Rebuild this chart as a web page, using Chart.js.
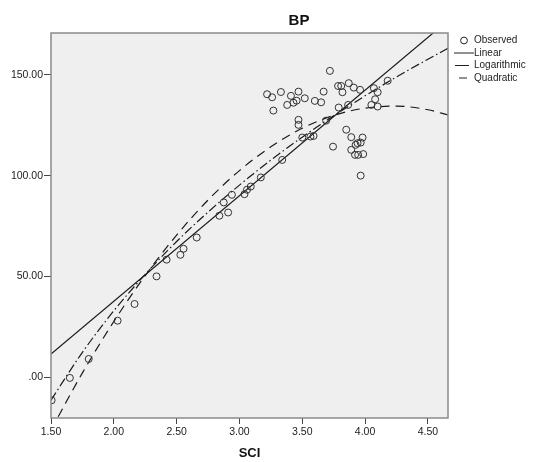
<!DOCTYPE html>
<html>
<head>
<meta charset="utf-8">
<script src="https://cdn.jsdelivr.net/npm/chart.js@4.4.1/dist/chart.umd.min.js"></script>
<style>
  html, body { margin: 0; padding: 0; background: #fff; }
  canvas { display: block; }
</style>
</head>
<body>
<canvas id="grafico" width="533" height="462"></canvas>
<script>
// observed cases
const sci = [1.505, 1.65, 1.80, 2.03, 2.165, 2.34, 2.42, 2.53, 2.555, 2.66, 2.84, 2.91, 2.875, 2.94,
  3.04, 3.06, 3.09, 3.17, 3.34,
  3.22, 3.26, 3.33, 3.27, 3.38, 3.43, 3.455, 3.41, 3.47, 3.47, 3.47,
  3.72, 3.785, 3.81, 3.82, 3.87, 3.91, 3.96, 4.07, 4.10, 4.18, 4.08, 4.05, 4.10, 3.79, 3.865,
  3.67, 3.52, 3.60, 3.65, 3.69,
  3.85, 3.89, 3.98, 3.94, 3.965, 3.925, 3.89, 3.92, 3.945, 3.985, 3.745, 3.965, 3.50, 3.565, 3.59];
const bp = [-11.5, -0.4, 9.0, 28.0, 36.3, 50.0, 58.3, 60.7, 63.7, 69.3, 80.1, 81.7, 86.7, 90.5,
  90.8, 93.0, 94.6, 99.1, 107.8,
  140.4, 138.9, 141.5, 132.3, 135.1, 136.2, 137.2, 139.6, 141.7, 127.7, 125.2,
  152.0, 144.5, 144.5, 141.4, 145.9, 143.7, 142.6, 143.4, 141.4, 147.1, 137.9, 135.1, 134.3, 133.8, 135.1,
  141.7, 138.4, 137.1, 136.4, 127.3,
  122.8, 119.1, 118.9, 116.1, 116.4, 115.3, 112.8, 110.3, 110.3, 110.7, 114.4, 100.0, 118.9, 119.4, 119.7];

// fitted curves
const linSci = [1.5, 4.66];
const linBp = [11.4, 177.0];
const fitSci = [1.5, 1.75, 2, 2.25, 2.5, 2.75, 3, 3.25, 3.5, 3.75, 4, 4.25, 4.5, 4.66];
const logBp = [-11.4, 12.3, 32.9, 51.0, 67.3, 81.9, 95.3, 107.7, 119.1, 129.7, 139.6, 149.0, 157.8, 163.2];
const quadBp = [-26.2, 2.1, 27.6, 50.4, 70.5, 87.9, 102.5, 114.3, 123.5, 129.9, 133.5, 134.5, 132.7, 130.1];

const xTicks = [1.5, 2, 2.5, 3, 3.5, 4, 4.5];
const xTickLabels = ['1.50', '2.00', '2.50', '3.00', '3.50', '4.00', '4.50'];
const yTicks = [0, 50, 100, 150];
const yTickLabels = ['.00', '50.00', '100.00', '150.00'];
const legendLabels = ['Observed', 'Linear', 'Logarithmic', 'Quadratic'];

const pares = (xs, ys) => xs.map((x, i) => ({ x: x, y: ys[i] }));

const TRACO_LOG = [9, 3, 1.5, 3];
const TRACO_QUAD = [9, 6];
const fonte = '"Liberation Sans", Arial, sans-serif';

// fundo cinza, moldura, titulo e legenda
const molduraPlugin = {
  id: 'moldura',
  beforeDraw(chart) {
    const { ctx, chartArea: a } = chart;
    ctx.save();
    ctx.fillStyle = '#efefef';
    ctx.fillRect(a.left, a.top, a.right - a.left, a.bottom - a.top);
    ctx.restore();
  },
  afterDraw(chart) {
    const { ctx, chartArea: a } = chart;
    ctx.save();
    ctx.strokeStyle = '#8a8a8a';
    ctx.lineWidth = 1.5;
    ctx.strokeRect(a.left, a.top, a.right - a.left, a.bottom - a.top);

    ctx.fillStyle = '#111';
    ctx.font = 'bold 15px ' + fonte;
    ctx.textAlign = 'center';
    ctx.textBaseline = 'middle';
    ctx.fillText('BP', 299, 21);

    ctx.font = '10px ' + fonte;
    ctx.textAlign = 'left';
    ctx.fillStyle = '#222';
    const ys = [40.5, 53, 65.5, 78];
    legendLabels.forEach((t, i) => ctx.fillText(t, 474, ys[i]));

    ctx.strokeStyle = '#222';
    ctx.lineWidth = 1;
    ctx.beginPath();
    ctx.arc(464, ys[0], 3.4, 0, Math.PI * 2);
    ctx.stroke();

    ctx.beginPath();
    ctx.moveTo(454, ys[1]); ctx.lineTo(474, ys[1]);
    ctx.stroke();

    ctx.beginPath();
    ctx.moveTo(455, ys[2]); ctx.lineTo(469, ys[2]);
    ctx.stroke();

    ctx.beginPath();
    ctx.moveTo(459, ys[3]); ctx.lineTo(467, ys[3]);
    ctx.stroke();
    ctx.restore();
  }
};

const ctx = document.getElementById('grafico').getContext('2d');
new Chart(ctx, {
  type: 'scatter',
  data: {
    datasets: [
      {
        label: 'Observed',
        data: pares(sci, bp),
        showLine: false,
        pointRadius: 3.5,
        pointBorderWidth: 1,
        pointBorderColor: '#333',
        pointBackgroundColor: 'rgba(0,0,0,0)'
      },
      {
        label: 'Linear',
        data: pares(linSci, linBp),
        showLine: true,
        borderColor: '#1a1a1a',
        borderWidth: 1.2,
        pointRadius: 0
      },
      {
        label: 'Logarithmic',
        data: pares(fitSci, logBp),
        showLine: true,
        borderColor: '#1a1a1a',
        borderWidth: 1.2,
        borderDash: TRACO_LOG,
        cubicInterpolationMode: 'monotone',
        pointRadius: 0
      },
      {
        label: 'Quadratic',
        data: pares(fitSci, quadBp),
        showLine: true,
        borderColor: '#1a1a1a',
        borderWidth: 1.2,
        borderDash: TRACO_QUAD,
        cubicInterpolationMode: 'monotone',
        pointRadius: 0
      }
    ]
  },
  options: {
    responsive: false,
    animation: false,
    layout: { padding: { top: 33, right: 85, left: 0, bottom: 0 } },
    plugins: {
      legend: { display: false },
      title: { display: false },
      tooltip: { enabled: false }
    },
    scales: {
      x: {
        type: 'linear',
        min: 1.5,
        max: 4.66,
        afterFit: s => { s.height = 44; },
        afterBuildTicks: s => { s.ticks = xTicks.map(v => ({ value: v })); },
        grid: { drawOnChartArea: false, drawTicks: true, tickLength: 6, color: '#444' },
        border: { display: false },
        ticks: {
          padding: 2,
          color: '#222',
          font: { family: fonte, size: 10.5 },
          maxRotation: 0,
          callback: (v, i) => xTickLabels[i]
        },
        title: {
          display: true,
          text: 'SCI',
          color: '#111',
          font: { family: fonte, size: 13, weight: 'bold' },
          padding: { top: 0, bottom: 1 }
        }
      },
      y: {
        type: 'linear',
        min: -20.3,
        max: 170.8,
        afterFit: s => { s.width = 51; },
        afterBuildTicks: s => { s.ticks = yTicks.map(v => ({ value: v })); },
        grid: { drawOnChartArea: false, drawTicks: true, tickLength: 7, color: '#444' },
        border: { display: false },
        ticks: {
          padding: 1,
          color: '#222',
          font: { family: fonte, size: 10.5 },
          callback: (v, i) => yTickLabels[i]
        }
      }
    }
  },
  plugins: [molduraPlugin]
});
</script>
</body>
</html>
